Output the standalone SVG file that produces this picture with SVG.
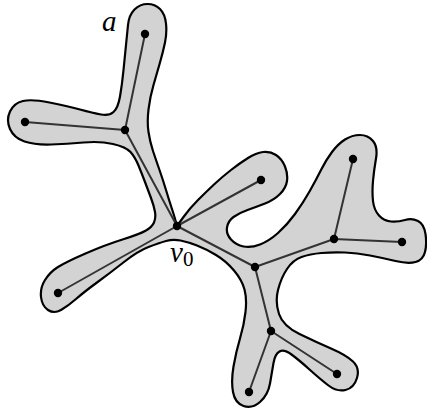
<svg xmlns="http://www.w3.org/2000/svg" width="427" height="410" viewBox="0 0 427 410">
<style>
.blob{fill:#d3d3d3;stroke:#000;stroke-width:2.2;stroke-linejoin:round}
.edge{stroke:#333;stroke-width:2;fill:none;stroke-linecap:round}
.node{fill:#000}
.lbl{font-family:"Liberation Serif",serif;font-style:italic;font-size:29px;fill:#000}
.sub{font-family:"Liberation Serif",serif;font-style:normal;font-size:21px}
</style>
<g id="outline">
<path class="blob" d="M126 45 Q127 35 128 25 Q129 15 134.5 9.5 Q140 4 147.5 4 Q155 4 160 9 Q165 14 166 23.5 Q167 33 165 42.5 Q163 52 160 62.5 Q157 73 153.5 85 Q150 97 148.5 109.5 Q147 122 148.5 132 Q150 142 153 151 Q156 160 159.5 170 Q163 180 166 190 Q169 200 171.5 207.5 Q174 215 175.5 220.5 L177 226 L183.5 217 Q190 208 198 200 Q206 192 214 184.5 Q222 177 231 170 Q240 163 248 158 Q256 153 263 152 Q270 151 276 155 Q282 159 285 166.5 Q288 174 287 181 Q286 188 280 194 Q274 200 265 203.5 Q256 207 247.5 210 Q239 213 233.5 217 Q228 221 227 227.5 Q226 234 231 239.5 Q236 245 243.5 246.5 Q251 248 260 244.5 Q269 241 278 233 Q287 225 295 214 Q303 203 309.5 191.5 Q316 180 321 170 Q326 160 332 152 Q338 144 345 139.5 Q352 135 360 135 Q368 135 373 141 Q378 147 376 158.5 Q374 170 373 181 Q372 192 373 201 Q374 210 379 215.5 Q384 221 391 221.5 Q398 222 405 220 Q412 218 418 221 Q424 224 425.5 234 Q427 244 425 252 Q423 260 415.5 262 Q408 264 395.5 261 Q383 258 370 255.5 Q357 253 345 252.5 Q333 252 321.5 253 Q310 254 301.5 257 Q293 260 287 269 Q281 278 278 290 Q275 302 279 314 Q283 326 299.5 334 Q316 342 331 348.5 Q346 355 353 361.5 Q360 368 357 378 Q354 388 345.5 390 Q337 392 328.5 385.5 Q320 379 309.5 369.5 Q299 360 291.5 354.5 Q284 349 279.5 351.5 Q275 354 273.5 363 Q272 372 270 383.5 Q268 395 260 402 Q252 409 243.5 406 Q235 403 233 392 Q231 381 233.5 366.5 Q236 352 240 338.5 Q244 325 245.5 312 Q247 299 244.5 289.5 Q242 280 234 270.5 Q226 261 216 255 Q206 249 197 245.5 Q188 242 180.5 240.5 Q173 239 166 241 Q159 243 148.5 247 Q138 251 124 262 Q110 273 97 282.5 Q84 292 76 299 Q68 306 61 310 Q54 314 48 310 Q42 306 41 297 Q40 288 45 280 Q50 272 58 267 Q66 262 85.5 253.5 Q105 245 122.5 239.5 Q140 234 146 230.5 Q152 227 154 222.5 Q156 218 155 212 Q154 206 151 198 Q148 190 145 182 Q142 174 138.5 165.5 Q135 157 130.5 152 Q126 147 113 144 Q100 141 83.5 142.5 Q67 144 51 144.5 Q35 145 24.5 141.5 Q14 138 10 129 Q6 120 10 111.5 Q14 103 23 101 Q32 99 49.5 102.5 Q67 106 80 109.5 Q93 113 101 114.5 Q109 116 113.5 112 Q118 108 120 96.5 Q122 85 123.5 70 Q125 55 126 45 Z"/>
</g>
<g id="connectors">
<line class="edge" x1="125" y1="130" x2="145" y2="34"/>
<line class="edge" x1="125" y1="130" x2="25" y2="122"/>
<line class="edge" x1="125" y1="130" x2="177" y2="226"/>
<line class="edge" x1="177" y1="226" x2="261" y2="180"/>
<line class="edge" x1="177" y1="226" x2="58" y2="293"/>
<line class="edge" x1="177" y1="226" x2="255" y2="267"/>
<line class="edge" x1="255" y1="267" x2="334" y2="239"/>
<line class="edge" x1="334" y1="239" x2="353" y2="159"/>
<line class="edge" x1="334" y1="239" x2="402" y2="242"/>
<line class="edge" x1="255" y1="267" x2="271" y2="331"/>
<line class="edge" x1="271" y1="331" x2="337" y2="374"/>
<line class="edge" x1="271" y1="331" x2="249" y2="392"/>
</g>
<g id="node-a"><circle class="node" cx="145" cy="34" r="4.2"/></g>
<g id="node-b"><circle class="node" cx="125" cy="130" r="4.2"/></g>
<g id="node-c"><circle class="node" cx="25" cy="122" r="4.2"/></g>
<g id="node-v0"><circle class="node" cx="177" cy="226" r="4.2"/></g>
<g id="node-d"><circle class="node" cx="261" cy="180" r="4.2"/></g>
<g id="node-e"><circle class="node" cx="58" cy="293" r="4.2"/></g>
<g id="node-f"><circle class="node" cx="255" cy="267" r="4.2"/></g>
<g id="node-g"><circle class="node" cx="334" cy="239" r="4.2"/></g>
<g id="node-h"><circle class="node" cx="353" cy="159" r="4.2"/></g>
<g id="node-i"><circle class="node" cx="402" cy="242" r="4.2"/></g>
<g id="node-j"><circle class="node" cx="271" cy="331" r="4.2"/></g>
<g id="node-k"><circle class="node" cx="337" cy="374" r="4.2"/></g>
<g id="node-l"><circle class="node" cx="249" cy="392" r="4.2"/></g>
<g id="labels">
<text class="lbl" x="102" y="31">a</text>
<text class="lbl" x="170" y="262">v<tspan class="sub" dy="4">0</tspan></text>
</g>
</svg>
